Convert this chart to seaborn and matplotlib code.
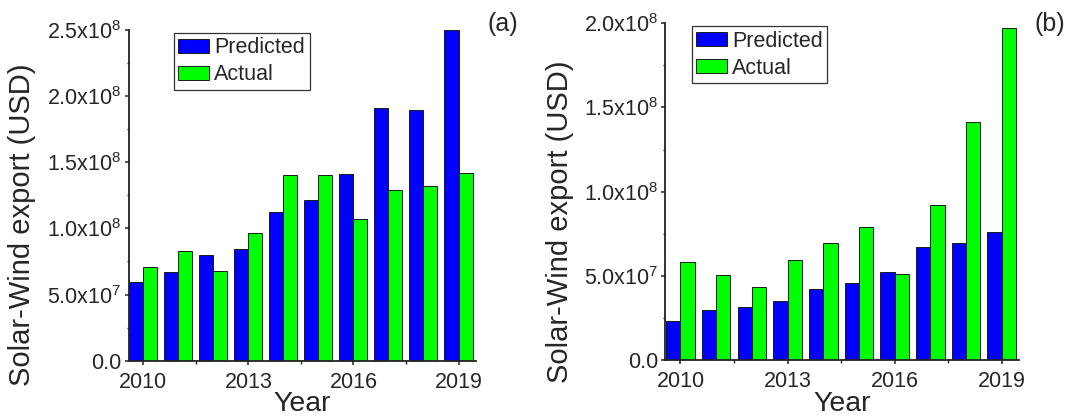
import matplotlib
matplotlib.use("Agg")
import matplotlib.pyplot as plt
from matplotlib.ticker import FixedLocator, MultipleLocator
import seaborn as sns
import pandas as pd

years = [2010, 2011, 2012, 2013, 2014, 2015, 2016, 2017, 2018, 2019]
predicted_a = [0.597e8, 0.668e8, 0.799e8, 0.847e8, 1.124e8, 1.212e8, 1.411e8, 1.910e8, 1.895e8, 2.50e8]
actual_a = [0.706e8, 0.832e8, 0.678e8, 0.963e8, 1.401e8, 1.406e8, 1.069e8, 1.288e8, 1.318e8, 1.419e8]
predicted_b = [0.231e8, 0.297e8, 0.317e8, 0.350e8, 0.423e8, 0.459e8, 0.524e8, 0.673e8, 0.696e8, 0.760e8]
actual_b = [0.580e8, 0.506e8, 0.433e8, 0.595e8, 0.694e8, 0.789e8, 0.512e8, 0.922e8, 1.414e8, 1.974e8]
series_names = ["Predicted", "Actual"]
xtick_years = [2010, 2013, 2016, 2019]
ytick_labels_a = ["0.0", "5.0x10$^{7}$", "1.0x10$^{8}$", "1.5x10$^{8}$", "2.0x10$^{8}$", "2.5x10$^{8}$"]
ytick_labels_b = ["0.0", "5.0x10$^{7}$", "1.0x10$^{8}$", "1.5x10$^{8}$", "2.0x10$^{8}$"]

sns.set_style("ticks")
plt.rcParams["font.family"] = ["Liberation Sans", "DejaVu Sans"]
plt.rcParams["mathtext.fontset"] = "custom"
plt.rcParams["mathtext.rm"] = "Liberation Sans"
plt.rcParams["mathtext.it"] = "Liberation Sans:italic"
plt.rcParams["mathtext.bf"] = "Liberation Sans:bold"

palette = {"Predicted": "#0000FF", "Actual": "#00FF00"}


def make_df(pred, act):
    return pd.DataFrame({
        "Year": years * 2,
        "Value": pred + act,
        "Series": [series_names[0]] * len(years) + [series_names[1]] * len(years),
    })


fig = plt.figure(figsize=(10.73, 4.16), dpi=100)
ax_a = fig.add_axes([0.1199, 0.1329, 0.3234, 0.7950])
ax_b = fig.add_axes([0.6202, 0.1346, 0.3297, 0.8094])

panels = [
    (ax_a, make_df(predicted_a, actual_a), 2.5e8, ytick_labels_a, "(a)", (0.130, 0.992), (503, 24), -0.152),
    (ax_b, make_df(predicted_b, actual_b), 2.0e8, ytick_labels_b, "(b)", (0.074, 0.992), (1050, 24), -0.151),
]

for ax, df, ymax, ylabels, tag, legpos, tagpos, xlab_y in panels:
    sns.barplot(data=df, x="Year", y="Value", hue="Series", hue_order=series_names,
                palette=palette, native_scale=True, edgecolor="#1a1a1a", linewidth=0.7,
                saturation=1, ax=ax, errorbar=None, width=0.8)
    ax.set_xlim(2009.58, 2019.49)
    ax.set_ylim(0, ymax)
    ax.xaxis.set_major_locator(FixedLocator(xtick_years))
    ax.xaxis.set_minor_locator(FixedLocator([2011.5, 2014.5, 2017.5]))
    ax.set_xticklabels([str(y) for y in xtick_years])
    yt = [i * 0.5e8 for i in range(len(ylabels))]
    ax.yaxis.set_major_locator(FixedLocator(yt))
    ax.yaxis.set_minor_locator(MultipleLocator(0.25e8))
    ax.set_yticklabels(ylabels)
    ax.tick_params(axis="both", which="major", labelsize=15.5, width=1.1,
                   color="#222222", direction="out", length=3.2)
    ax.tick_params(axis="both", which="minor", width=1.0, color="#222222",
                   direction="out", length=1.8)
    ax.tick_params(axis="x", which="major", pad=5)
    ax.tick_params(axis="y", which="major", pad=2)
    sns.despine(ax=ax)
    for s in ["left", "bottom"]:
        ax.spines[s].set_linewidth(1.3)
        ax.spines[s].set_color("#222222")
    ax.set_xlabel("Year", fontsize=20.5)
    ax.xaxis.set_label_coords(0.5, xlab_y)
    ax.xaxis.label.set_verticalalignment("baseline")
    ax.set_ylabel("Solar-Wind export (USD)", fontsize=21)
    ax.legend_.remove()
    leg = ax.legend(*ax.get_legend_handles_labels(), loc="upper left",
                    bbox_to_anchor=legpos, borderaxespad=0,
                    fontsize=15.5, frameon=True, fancybox=False, framealpha=1,
                    edgecolor="#333333", handlelength=1.4, handleheight=0.65,
                    handletextpad=0.25, labelspacing=0.28, borderpad=0.22)
    leg.get_frame().set_linewidth(0.9)
    fig.text(tagpos[0] / 1073, 1 - tagpos[1] / 416, tag, fontsize=18,
             ha="center", va="center")

fig.canvas.draw()
# place the y labels: centre slightly below axes centre, as in the reference
for ax, xc in [(ax_a, 22.5), (ax_b, 560)]:
    inv = ax.transAxes.inverted()
    x_ax = inv.transform((xc, 0))[0]
    ax.yaxis.set_label_coords(x_ax, 0.41)
    ax.yaxis.label.set_verticalalignment("center")

fig.savefig("out.png", dpi=100)
